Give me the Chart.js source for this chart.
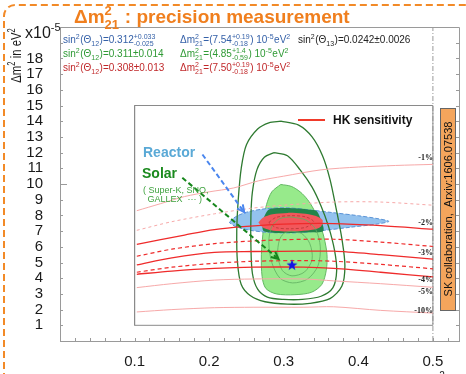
<!DOCTYPE html>
<html>
<head>
<meta charset="utf-8">
<script src="https://cdn.jsdelivr.net/npm/chart.js@4.4.1/dist/chart.umd.min.js"></script>
<style>
  html, body { margin: 0; padding: 0; background: #fff; }
  #wrap { width: 466px; height: 374px; }
</style>
</head>
<body>
<div id="wrap"><canvas id="myChart" width="466" height="374"></canvas></div>
<script>
// axis ticks
const xTickValues = [0.1, 0.2, 0.3, 0.4, 0.5];
const yTickValues = [1, 2, 3, 4, 5, 6, 7, 8, 9, 10, 11, 12, 13, 14, 15, 16, 17, 18];

// solar contours (sin^2 theta12, dm2 in 1e-5 eV^2)
const solarFill = [[0.296, 9.97], [0.31, 9.85], [0.322, 9.5], [0.332, 9.0], [0.34, 8.4], [0.348, 7.5], [0.354, 6.6], [0.358, 5.5], [0.357, 4.5], [0.351, 3.6], [0.337, 3.1], [0.315, 2.95], [0.29, 3.0], [0.276, 3.35], [0.271, 4.1], [0.27, 5.5], [0.272, 6.8], [0.274, 7.9], [0.277, 8.7], [0.284, 9.5], [0.296, 9.97]];
const solarOuter = [[0.296, 14.0], [0.32, 13.75], [0.338, 13.0], [0.352, 11.8], [0.362, 10.3], [0.37, 8.5], [0.378, 6.5], [0.382, 4.8], [0.378, 3.5], [0.362, 2.7], [0.335, 2.4], [0.305, 2.35], [0.275, 2.5], [0.255, 2.9], [0.243, 3.6], [0.238, 5.0], [0.237, 7.0], [0.239, 9.0], [0.243, 11.0], [0.25, 12.5], [0.265, 13.5], [0.28, 13.9], [0.296, 14.0]];
const solarMid = [[0.287, 12.0], [0.305, 11.8], [0.322, 10.9], [0.338, 9.8], [0.35, 8.6], [0.36, 7.3], [0.368, 5.8], [0.371, 4.5], [0.366, 3.4], [0.35, 2.85], [0.325, 2.65], [0.3, 2.65], [0.278, 2.8], [0.265, 3.3], [0.258, 4.3], [0.256, 6.0], [0.256, 8.0], [0.258, 9.5], [0.264, 10.9], [0.274, 11.7], [0.287, 12.0]];
const solarInner1 = [[0.31, 7.9], [0.33, 7.7], [0.343, 7.1], [0.349, 6.0], [0.346, 4.8], [0.332, 3.95], [0.312, 3.7], [0.295, 4.0], [0.284, 5.0], [0.28, 6.3], [0.284, 7.3], [0.295, 7.8], [0.31, 7.9]];
const solarInner2 = [[0.31, 7.0], [0.324, 6.85], [0.335, 6.2], [0.338, 5.2], [0.328, 4.4], [0.311, 4.15], [0.298, 4.5], [0.292, 5.5], [0.294, 6.4], [0.3, 6.85], [0.31, 7.0]];

// reactor and combined
const reactorFill = [[0.227, 7.55], [0.235, 7.9], [0.25, 8.2], [0.275, 8.42], [0.305, 8.48], [0.335, 8.35], [0.365, 8.18], [0.4, 7.98], [0.425, 7.8], [0.441, 7.62], [0.425, 7.45], [0.39, 7.25], [0.355, 7.05], [0.32, 6.9], [0.285, 6.9], [0.255, 7.05], [0.235, 7.3], [0.227, 7.55]];
const overlapFill = [[0.271, 7.5], [0.274, 7.95], [0.28, 8.38], [0.295, 8.47], [0.315, 8.45], [0.335, 8.36], [0.344, 8.28], [0.35, 7.7], [0.353, 7.0], [0.335, 6.92], [0.31, 6.88], [0.285, 6.9], [0.273, 7.0], [0.271, 7.5]];
const combinedFill = [[0.266, 7.55], [0.272, 7.85], [0.285, 8.07], [0.305, 8.16], [0.325, 8.12], [0.342, 7.98], [0.352, 7.7], [0.35, 7.3], [0.338, 7.08], [0.315, 6.98], [0.29, 7.0], [0.273, 7.2], [0.266, 7.55]];
const combinedInner = [[0.28, 7.55], [0.29, 7.88], [0.31, 7.98], [0.33, 7.9], [0.34, 7.6], [0.33, 7.25], [0.31, 7.15], [0.29, 7.22], [0.28, 7.55]];
const bestFit = [[0.311, 4.86]];

// HK sensitivity curves
const hk1 = [[0.103, 8.3], [0.135, 8.75], [0.167, 9.2], [0.2, 9.5], [0.233, 9.75], [0.266, 10.2], [0.3, 10.5], [0.35, 10.9], [0.4, 11.08], [0.45, 11.18], [0.5, 11.25]];
const hk1b = [[0.103, 7.05], [0.15, 7.6], [0.207, 8.1], [0.256, 8.45], [0.3, 8.65], [0.367, 8.85], [0.43, 8.85], [0.5, 8.65]];
const hk2 = [[0.103, 6.15], [0.167, 6.75], [0.207, 7.1], [0.25, 7.3], [0.3, 7.45], [0.367, 7.48], [0.43, 7.35], [0.5, 7.12]];
const hk2b = [[0.103, 5.4], [0.15, 5.85], [0.207, 6.2], [0.25, 6.35], [0.3, 6.45], [0.367, 6.48], [0.43, 6.3], [0.5, 6.02]];
const hk3 = [[0.103, 4.85], [0.15, 5.3], [0.207, 5.65], [0.26, 5.7], [0.327, 5.72], [0.367, 5.72], [0.43, 5.5], [0.5, 5.22]];
const hk3b = [[0.103, 4.38], [0.15, 4.7], [0.207, 4.95], [0.26, 5.08], [0.327, 5.12], [0.367, 5.08], [0.43, 4.88], [0.5, 4.6]];
const hk4 = [[0.103, 4.25], [0.15, 4.45], [0.207, 4.62], [0.26, 4.7], [0.327, 4.7], [0.367, 4.62], [0.43, 4.38], [0.5, 4.08]];
const hk5 = [[0.103, 3.4], [0.15, 3.65], [0.207, 3.88], [0.26, 3.95], [0.327, 3.95], [0.367, 3.83], [0.43, 3.65], [0.5, 3.42]];
const hk10 = [[0.103, 1.85], [0.15, 2.0], [0.207, 2.12], [0.26, 2.15], [0.327, 2.15], [0.367, 2.18], [0.43, 1.95], [0.5, 1.78]];

// arrows and inset frame
const reactorArrow = [[0.191, 11.88], [0.247, 8.2]];
const solarArrow = [[0.164, 10.4], [0.293, 5.22]];
const insetBox = [[0.1, 1], [0.5, 1], [0.5, 15], [0.1, 15], [0.1, 1]];
const halfLine = [[0.5, 0], [0.5, 20]];

const FONT = 'Liberation Sans, Arial, sans-serif';

function pts(a) { return a.map(p => ({ x: p[0], y: p[1] })); }

function shape(data, bg, border, order, extra) {
    return Object.assign({
        data: pts(data), fill: 'shape', backgroundColor: bg, borderColor: border || 'rgba(0,0,0,0)',
        borderWidth: border ? 1 : 0, pointRadius: 0, tension: 0.3, order: order
    }, extra || {});
}
function curve(data, color, width, dash, order, tension) {
    return {
        data: pts(data), fill: false, borderColor: color, borderWidth: width, borderDash: dash || [],
        pointRadius: 0, tension: tension === undefined ? 0.3 : tension, order: order
    };
}

// blue star marker
const starImg = document.createElement('canvas');
starImg.width = 12; starImg.height = 12;
(function () {
    const c = starImg.getContext('2d');
    c.fillStyle = '#1414e6';
    c.beginPath();
    for (let i = 0; i < 10; i++) {
        const r = i % 2 ? 2.4 : 5.8;
        const a = -Math.PI / 2 + i * Math.PI / 5;
        c.lineTo(6 + r * Math.cos(a), 6.5 + r * Math.sin(a));
    }
    c.closePath();
    c.fill();
})();

// text helper with super/subscripts
function rich(ctx, x, y, parts, size, bold, draw) {
    let cx = x;
    const f = s => (bold ? 'bold ' : '') + s + 'px ' + FONT;
    for (const p of parts) {
        if (typeof p === 'string') {
            ctx.font = f(size);
            if (draw) ctx.fillText(p, cx, y);
            cx += ctx.measureText(p).width;
        } else {
            const small = Math.round(size * 0.68);
            ctx.font = f(small);
            let w = 0;
            if (p.sup) { if (draw) ctx.fillText(p.sup, cx, y - size * 0.42); w = ctx.measureText(p.sup).width; }
            if (p.sub) { if (draw) ctx.fillText(p.sub, cx, y + size * 0.3); w = Math.max(w, ctx.measureText(p.sub).width); }
            cx += w + 0.5;
        }
    }
    return cx - x;
}

function arrowHead(ctx, chart, arr, color) {
    const xs = chart.scales.x, ys = chart.scales.y;
    const a = arr[arr.length - 2], b = arr[arr.length - 1];
    const x1 = xs.getPixelForValue(a[0]), y1 = ys.getPixelForValue(a[1]);
    const x2 = xs.getPixelForValue(b[0]), y2 = ys.getPixelForValue(b[1]);
    const ang = Math.atan2(y2 - y1, x2 - x1);
    ctx.save();
    ctx.strokeStyle = color; ctx.lineWidth = 2; ctx.setLineDash([]);
    ctx.beginPath();
    ctx.moveTo(x2 - 8 * Math.cos(ang - 0.45), y2 - 8 * Math.sin(ang - 0.45));
    ctx.lineTo(x2, y2);
    ctx.lineTo(x2 - 8 * Math.cos(ang + 0.45), y2 - 8 * Math.sin(ang + 0.45));
    ctx.stroke();
    ctx.restore();
}

const decorations = {
    id: 'decorations',
    beforeDraw(chart) {
        const { ctx, width, height } = chart;
        ctx.save();
        ctx.fillStyle = '#fff';
        ctx.fillRect(0, 0, width, height);
        ctx.restore();
    },
    afterDatasetsDraw(chart) {
        const { ctx, chartArea: ca } = chart;
        const xs = chart.scales.x, ys = chart.scales.y;
        ctx.save();
        arrowHead(ctx, chart, reactorArrow, '#4a86ee');
        arrowHead(ctx, chart, solarArrow, '#17861c');

        // frame top/right and minor ticks
        ctx.strokeStyle = '#9a9a9a'; ctx.lineWidth = 1;
        ctx.beginPath();
        ctx.moveTo(ca.left, ca.top + 0.5); ctx.lineTo(ca.right + 0.5, ca.top + 0.5); ctx.lineTo(ca.right + 0.5, ca.bottom);
        ctx.stroke();
        ctx.beginPath();
        for (let i = 1; i <= 26; i++) {
            const px = Math.round(xs.getPixelForValue(i * 0.02)) + 0.5;
            ctx.moveTo(px, ca.bottom); ctx.lineTo(px, ca.bottom - 3);
        }
        for (let v = 1; v <= 19; v++) {
            const py = Math.round(ys.getPixelForValue(v)) + 0.5;
            const len = v === 10 ? 7 : 3;
            ctx.moveTo(ca.left, py); ctx.lineTo(ca.left + len, py);
            ctx.moveTo(ca.right, py); ctx.lineTo(ca.right - len, py);
        }
        ctx.stroke();

        // HK legend
        ctx.strokeStyle = '#f03a2a'; ctx.lineWidth = 2;
        ctx.beginPath(); ctx.moveTo(298, 120); ctx.lineTo(325, 120); ctx.stroke();
        ctx.fillStyle = '#111';
        ctx.font = 'bold 12px ' + FONT;
        ctx.fillText('HK sensitivity', 333, 124);

        // percent labels
        ctx.font = 'bold 8px Liberation Serif, serif';
        ctx.textAlign = 'right';
        ctx.fillStyle = '#222';
        [['-1%', 160], ['-2%', 225], ['-3%', 255], ['-4%', 282], ['-5%', 294], ['-10%', 313]].forEach(l => ctx.fillText(l[0], 433, l[1]));
        ctx.textAlign = 'left';

        // annotations
        ctx.fillStyle = '#5aa9d6';
        ctx.font = 'bold 14px ' + FONT;
        ctx.fillText('Reactor', 143, 157);
        ctx.fillStyle = '#1b8a1e';
        ctx.fillText('Solar', 142, 178);
        ctx.fillStyle = '#3ea23e';
        ctx.font = '9px ' + FONT;
        ctx.fillText('( Super-K, SNO,', 143, 193);
        ctx.fillText(' GALLEX  \u00b7\u00b7\u00b7 )', 145, 202);
        ctx.restore();
    },
    afterDraw(chart) {
        const { ctx } = chart;
        ctx.save();
        ctx.textBaseline = 'alphabetic';

        // title
        ctx.fillStyle = '#f07f1e';
        rich(ctx, 74, 23, ['\u0394m', { sup: '2', sub: '21' }, ' : precision measurement'], 19, true, true);

        // y title, squeezed along its length like the original
        ctx.fillStyle = '#1a1a1a';
        const yt = ['\u0394m', { sup: '2' }, ' in eV', { sup: '2' }];
        const w = rich(ctx, 0, 0, yt, 15, false, false) * 0.75;
        ctx.save();
        ctx.translate(21, 28 + w);
        ctx.rotate(-Math.PI / 2);
        ctx.scale(0.75, 1);
        rich(ctx, 0, 0, yt, 15, false, true);
        ctx.restore();
        rich(ctx, 25, 38, ['x10', { sup: '-5' }], 16, false, true);

        // fit results
        const blue = '#3561a8', green = '#2f9a35', red = '#c0282a';
        ctx.fillStyle = blue;
        rich(ctx, 63, 43, ['sin', { sup: '2' }, '(\u0398', { sub: '12' }, ')=0.312', { sup: '+0.033', sub: '-0.025' }], 10, false, true);
        rich(ctx, 180, 43, ['\u0394m', { sup: '2', sub: '21' }, '=(7.54', { sup: '+0.19', sub: '-0.18' }, ') 10', { sup: '-5' }, 'eV', { sup: '2' }], 10, false, true);
        ctx.fillStyle = '#222';
        rich(ctx, 298, 43, ['sin', { sup: '2' }, '(\u0398', { sub: '13' }, ')=0.0242\u00b10.0026'], 10, false, true);
        ctx.fillStyle = green;
        rich(ctx, 63, 57, ['sin', { sup: '2' }, '(\u0398', { sub: '12' }, ')=0.311\u00b10.014'], 10, false, true);
        rich(ctx, 180, 57, ['\u0394m', { sup: '2', sub: '21' }, '=(4.85', { sup: '+1.4', sub: '-0.59' }, ') 10', { sup: '-5' }, 'eV', { sup: '2' }], 10, false, true);
        ctx.fillStyle = red;
        rich(ctx, 63, 71, ['sin', { sup: '2' }, '(\u0398', { sub: '12' }, ')=0.308\u00b10.013'], 10, false, true);
        rich(ctx, 180, 71, ['\u0394m', { sup: '2', sub: '21' }, '=(7.50', { sup: '+0.19', sub: '-0.18' }, ') 10', { sup: '-5' }, 'eV', { sup: '2' }], 10, false, true);

        // reference box
        ctx.fillStyle = '#f4a55c';
        ctx.fillRect(440, 108, 15, 202);
        ctx.strokeStyle = '#666'; ctx.lineWidth = 1;
        ctx.strokeRect(440.5, 108.5, 15, 202);
        ctx.save();
        ctx.translate(452, 209);
        ctx.rotate(-Math.PI / 2);
        ctx.fillStyle = '#111';
        ctx.font = '11px ' + FONT;
        ctx.textAlign = 'center';
        ctx.fillText('SK collaboration,  Arxiv:1606.07538', 0, 0);
        ctx.restore();

        // orange dashed frame
        ctx.strokeStyle = '#f28a28'; ctx.lineWidth = 2;
        ctx.setLineDash([7, 4]);
        ctx.beginPath();
        ctx.moveTo(4, 380);
        ctx.lineTo(4, 16);
        ctx.arcTo(4, 5, 15, 5, 11);
        ctx.lineTo(470, 5);
        ctx.stroke();

        // x axis title, mostly below the picture
        ctx.setLineDash([]);
        ctx.fillStyle = '#222';
        rich(ctx, 420, 385, ['sin', { sup: '2' }, '(\u0398', { sub: '12' }, ')'], 15, false, true);
        ctx.restore();
    }
};

const ctx = document.getElementById('myChart');
const myChart = new Chart(ctx.getContext('2d'), {
    type: 'line',
    data: {
        datasets: [
            curve(halfLine, '#9a9a9a', 1, [5, 2, 1, 2], 30, 0),
            curve(insetBox, '#8a8a8a', 1, [], 29, 0),
            shape(solarFill, '#97ea8b', '#63b863', 20),
            shape(reactorFill, '#93c2ee', '#5b93d6', 19, { borderDash: [4, 2] }),
            shape(overlapFill, '#23844a', null, 18),
            shape(combinedFill, '#f2575b', null, 17),
            curve(combinedInner, '#b83535', 0.8, [3, 2], 16),
            curve(solarInner1, '#5fae5f', 0.8, [], 15),
            curve(solarInner2, '#5fae5f', 0.8, [], 15),
            curve(solarOuter, '#2e7a30', 1.3, [], 14),
            curve(solarMid, '#2e7a30', 1.3, [], 14),
            curve(hk10, '#f7a9a9', 1, [], 10),
            curve(hk5, '#f7a9a9', 1, [], 10),
            curve(hk1, '#f7a9a9', 1, [], 10),
            curve(hk1b, '#f7a9a9', 1, [3, 3], 10),
            curve(hk4, '#ef2b2b', 1.3, [], 9),
            curve(hk3b, '#ef2b2b', 1.2, [4, 3], 9),
            curve(hk3, '#ef2b2b', 1.3, [], 9),
            curve(hk2b, '#ef2b2b', 1.2, [4, 3], 9),
            curve(hk2, '#ef2b2b', 1.3, [], 9),
            curve(reactorArrow, '#4a86ee', 2, [5, 3], 3, 0),
            curve(solarArrow, '#17861c', 2, [5, 3], 3, 0),
            {
                data: pts(bestFit), showLine: false, pointStyle: starImg, pointRadius: 6, order: 1
            }
        ]
    },
    options: {
        responsive: false,
        animation: false,
        layout: { padding: { top: 27, right: 5, left: 0, bottom: 0 } },
        plugins: {
            legend: { display: false },
            tooltip: { enabled: false }
        },
        scales: {
            x: {
                type: 'linear',
                min: 0,
                max: 0.535,
                afterBuildTicks: s => { s.ticks = xTickValues.map(v => ({ value: v })); },
                afterFit: s => { s.height = 33; },
                grid: { display: false, drawTicks: false },
                border: { display: true, color: '#9a9a9a' },
                ticks: { color: '#1a1a1a', padding: 12, font: { size: 15, family: FONT }, maxRotation: 0, autoSkip: false }
            },
            y: {
                type: 'linear',
                min: 0,
                max: 20,
                afterBuildTicks: s => { s.ticks = yTickValues.map(v => ({ value: v })); },
                afterFit: s => { s.width = 60; },
                grid: { display: false, drawTicks: false },
                border: { display: true, color: '#9a9a9a' },
                ticks: { color: '#1a1a1a', padding: 17, font: { size: 15, family: FONT }, autoSkip: false }
            }
        }
    },
    plugins: [decorations]
});
</script>
</body>
</html>
